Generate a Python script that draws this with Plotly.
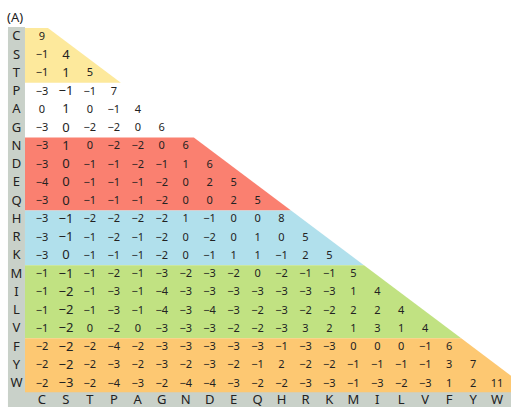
import plotly.graph_objects as go

# BLOSUM62 lower triangle, residues ordered by physico-chemical group
residues = ["C", "S", "T", "P", "A", "G", "N", "D", "E", "Q",
            "H", "R", "K", "M", "I", "L", "V", "F", "Y", "W"]

scores = [
    [9],
    [-1, 4],
    [-1, 1, 5],
    [-3, -1, -1, 7],
    [0, 1, 0, -1, 4],
    [-3, 0, -2, -2, 0, 6],
    [-3, 1, 0, -2, -2, 0, 6],
    [-3, 0, -1, -1, -2, -1, 1, 6],
    [-4, 0, -1, -1, -1, -2, 0, 2, 5],
    [-3, 0, -1, -1, -1, -2, 0, 0, 2, 5],
    [-3, -1, -2, -2, -2, -2, 1, -1, 0, 0, 8],
    [-3, -1, -1, -2, -1, -2, 0, -2, 0, 1, 0, 5],
    [-3, 0, -1, -1, -1, -2, 0, -1, 1, 1, -1, 2, 5],
    [-1, -1, -1, -2, -1, -3, -2, -3, -2, 0, -2, -1, -1, 5],
    [-1, -2, -1, -3, -1, -4, -3, -3, -3, -3, -3, -3, -3, 1, 4],
    [-1, -2, -1, -3, -1, -4, -3, -4, -3, -2, -3, -2, -2, 2, 2, 4],
    [-1, -2, 0, -2, 0, -3, -3, -3, -2, -2, -3, 3, 2, 1, 3, 1, 4],
    [-2, -2, -2, -4, -2, -3, -3, -3, -3, -3, -1, -3, -3, 0, 0, 0, -1, 6],
    [-2, -2, -2, -3, -2, -3, -2, -3, -2, -1, 2, -2, -2, -1, -1, -1, -1, 3, 7],
    [-2, -3, -2, -4, -3, -2, -4, -4, -3, -2, -2, -3, -3, -1, -3, -2, -3, 1, 2, 11],
]

# residue groups: (first row, last row, fill colour)
groups = [
    (0, 2, "#fde99c"),
    (3, 5, None),
    (6, 9, "#fa8070"),
    (10, 12, "#b1e0ec"),
    (13, 16, "#c1e282"),
    (17, 19, "#fdc872"),
]

n = len(residues)
XMIN, XMAX = -1.2526, 20.083
YMIN, YMAX = -1.528, 20.761
STRIP_L, STRIP_R = -0.92, -0.21
GRAY = "#c9d1c9"
INK = "#222222"


def edge(y):
    # right boundary of the coloured triangle at row coordinate y
    return min(0.75 + 1.015 * y, XMAX + 0.5)


shapes = []
for r0, r1, col in groups:
    if col is None:
        continue
    y0, y1 = r0, r1 + 1
    path = (f"M {STRIP_R},{y0} L {edge(y0)},{y0} "
            f"L {edge(y1)},{y1} L {STRIP_R},{y1} Z")
    if edge(y1) >= XMAX and edge(y0) < XMAX:
        yc = (XMAX + 0.5 - 0.75) / 1.015
        path = (f"M {STRIP_R},{y0} L {edge(y0)},{y0} L {XMAX + 0.5},{yc} "
                f"L {XMAX + 0.5},{y1} L {STRIP_R},{y1} Z")
    shapes.append(dict(type="path", path=path, xref="x", yref="y",
                       fillcolor=col, line=dict(width=0), layer="below"))

# label strips (left column and bottom row)
shapes.append(dict(type="rect", xref="x", yref="y", x0=STRIP_L, x1=STRIP_R,
                   y0=-0.05, y1=YMAX + 0.5, fillcolor=GRAY,
                   line=dict(width=0), layer="below"))
shapes.append(dict(type="rect", xref="x", yref="y", x0=STRIP_L, x1=XMAX + 0.5,
                   y0=19.96, y1=YMAX + 0.5, fillcolor=GRAY,
                   line=dict(width=0), layer="below"))

xs, ys, txt, sizes = [], [], [], []
for r, row in enumerate(scores):
    for c, v in enumerate(row):
        xs.append(c + 0.5)
        ys.append(r + 0.5)
        txt.append(str(v).replace("-", "\u2212"))
        sizes.append(13 if c == 1 else 11)

fig = go.Figure()
fig.add_trace(go.Scatter(
    x=xs, y=ys, text=txt, mode="text", cliponaxis=False,
    textfont=dict(family="Noto Sans", size=sizes, color=INK),
    hoverinfo="skip", showlegend=False))

# row labels
fig.add_trace(go.Scatter(
    x=[(STRIP_L + STRIP_R) / 2] * n, y=[r + 0.5 for r in range(n)],
    text=residues, mode="text", cliponaxis=False,
    textfont=dict(family="Noto Sans", size=13, color=INK),
    hoverinfo="skip", showlegend=False))

# column labels
fig.add_trace(go.Scatter(
    x=[c + 0.5 for c in range(n)], y=[20.42] * n,
    text=residues, mode="text", cliponaxis=False,
    textfont=dict(family="Noto Sans", size=13, color=INK),
    hoverinfo="skip", showlegend=False))

fig.update_layout(
    width=511, height=407,
    margin=dict(l=0, r=0, t=0, b=0),
    paper_bgcolor="white", plot_bgcolor="white",
    shapes=shapes,
    xaxis=dict(range=[XMIN, XMAX], visible=False, fixedrange=True),
    yaxis=dict(range=[YMAX, YMIN], visible=False, fixedrange=True),
    annotations=[dict(text="(A)", xref="paper", yref="paper",
                      x=0.0, y=1.0 - 17 / 407, xanchor="left", yanchor="middle",
                      xshift=6, showarrow=False, borderpad=0,
                      font=dict(family="Noto Sans", size=13, color=INK))],
)

fig.write_html("out.html")
